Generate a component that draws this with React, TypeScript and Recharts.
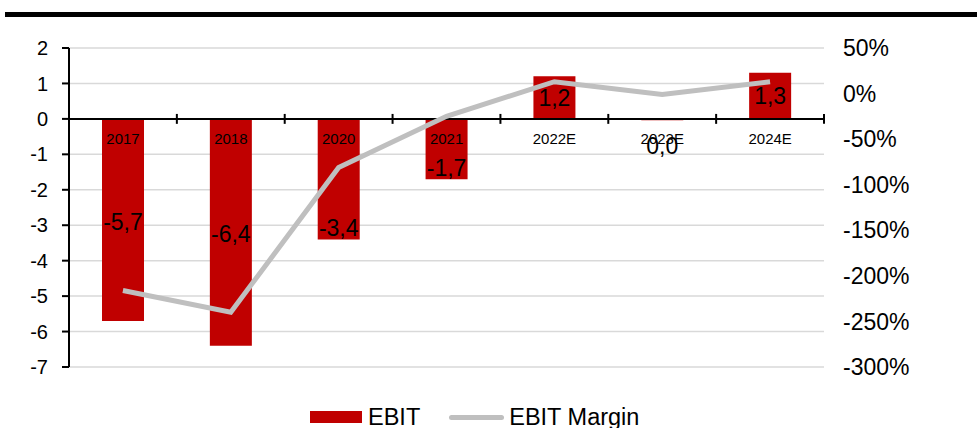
import React from "react";
import {
  ComposedChart,
  Bar,
  Line,
  XAxis,
  YAxis,
  CartesianGrid,
  ReferenceLine,
  Legend,
  LabelList,
} from "recharts";

const years = ["2017", "2018", "2020", "2021", "2022E", "2023E", "2024E"];
const ebit = [-5.7, -6.4, -3.4, -1.7, 1.2, -0.04, 1.3];
const ebitMargin = [-216, -240, -81, -25, 13, -1, 13];
const leftTicks = [2, 1, 0, -1, -2, -3, -4, -5, -6, -7];
const rightTicks = [50, 0, -50, -100, -150, -200, -250, -300];

const data = years.map((year, i) => ({
  year,
  ebit: ebit[i],
  margin: ebitMargin[i],
}));

const FONT = "'Liberation Sans', Arial, sans-serif";
const RED = "#c00000";
const GREY = "#bfbfbf";

const fmt = (v: number) =>
  Math.abs(v) < 0.05 ? "0,0" : v.toFixed(1).replace(".", ",");

const rectOf = (props: any) => {
  const vb = props.viewBox || props;
  return { x: vb.x, y: vb.y, width: vb.width, height: vb.height };
};

const ValueLabel = (props: any) => {
  const { x, y, width, height } = rectOf(props);
  const v = Number(props.value);
  const zeroY = y + height;
  let ty = (y + zeroY) / 2;
  if (Math.abs(v) < 0.05) ty = zeroY + 27;
  else if (v < 0 && v > -5) ty = y - 11;
  else if (v < 0) ty = ty + 2;
  return (
    <text
      x={x + width / 2}
      y={ty}
      textAnchor="middle"
      dominantBaseline="central"
      fontSize={23}
      fill="#000"
      fontFamily={FONT}
    >
      {fmt(v)}
    </text>
  );
};

const YearLabel = (props: any) => {
  const { x, y, width, height } = rectOf(props);
  const zeroY = y + height;
  return (
    <text
      x={x + width / 2}
      y={zeroY + 20}
      textAnchor="middle"
      dominantBaseline="central"
      fontSize={15}
      fill="#000"
      fontFamily={FONT}
    >
      {props.value}
    </text>
  );
};

const LegendContent = () => (
  <div
    style={{
      display: "flex",
      alignItems: "center",
      height: 30,
      paddingLeft: 310,
      fontFamily: FONT,
      fontSize: 23.5,
      color: "#000",
    }}
  >
    <span style={{ width: 52, height: 12, background: RED, display: "inline-block" }} />
    <span style={{ marginLeft: 6 }}>EBIT</span>
    <span
      style={{
        marginLeft: 29,
        width: 55,
        height: 5,
        borderRadius: 3,
        background: GREY,
        display: "inline-block",
      }}
    />
    <span style={{ marginLeft: 5 }}>EBIT Margin</span>
  </div>
);

export default function App() {
  return (
    <div
      style={{
        position: "absolute",
        left: 0,
        top: 0,
        width: 977,
        height: 428,
        background: "#fff",
        fontFamily: FONT,
      }}
    >
      <div
        style={{
          position: "absolute",
          left: 5,
          top: 12,
          width: 972,
          height: 5,
          background: "#000",
        }}
      />
      <ComposedChart
        width={977}
        height={428}
        data={data}
        margin={{ top: 48, right: 0, left: 0, bottom: 31 }}
      >
        <CartesianGrid vertical={false} stroke="#d9d9d9" strokeWidth={1.5} yAxisId="left" xAxisId="cat" />
        <XAxis xAxisId="cat" dataKey="year" type="category" hide />
        <XAxis xAxisId="cat2" dataKey="year" type="category" hide />
        <YAxis
          yAxisId="left"
          orientation="left"
          width={69}
          domain={[-7, 2]}
          ticks={leftTicks}
          interval={0}
          axisLine={{ stroke: "#000", strokeWidth: 2 }}
          tickLine={{ stroke: "#000", strokeWidth: 2 }}
          tickSize={7}
          tickMargin={14}
          tick={{ fill: "#000", fontSize: 20, fontFamily: FONT }}
        />
        <YAxis
          yAxisId="right"
          orientation="right"
          width={153}
          domain={[-300, 50]}
          ticks={rightTicks}
          interval={0}
          axisLine={false}
          tickLine={false}
          tickMargin={13}
          tickFormatter={(v: number) => `${v}%`}
          tick={{ fill: "#000", fontSize: 23, fontFamily: FONT, textAnchor: "start" }}
        />
        <Bar
          dataKey="ebit"
          xAxisId="cat"
          yAxisId="left"
          fill={RED}
          barSize={42}
          isAnimationActive={false}
        >
          <LabelList dataKey="year" content={YearLabel} />
        </Bar>
        <ReferenceLine y={0} yAxisId="left" xAxisId="cat" stroke="#000" strokeWidth={2} />
        {years.map((yr) => (
          <ReferenceLine
            key={yr}
            xAxisId="cat"
            yAxisId="left"
            position="end"
            segment={[
              { x: yr, y: -0.14 },
              { x: yr, y: 0.14 },
            ]}
            stroke="#000"
            strokeWidth={2}
          />
        ))}
        <Line
          dataKey="margin"
          xAxisId="cat"
          yAxisId="right"
          stroke={GREY}
          strokeWidth={5}
          dot={false}
          activeDot={false}
          isAnimationActive={false}
        />
        <Bar
          dataKey="ebit"
          xAxisId="cat2"
          yAxisId="left"
          fill="transparent"
          barSize={42}
          legendType="none"
          isAnimationActive={false}
        >
          <LabelList dataKey="ebit" content={ValueLabel} />
        </Bar>
        <Legend
          verticalAlign="bottom"
          content={LegendContent}
          wrapperStyle={{ bottom: -4, left: 0, width: 977 }}
        />
      </ComposedChart>
    </div>
  );
}
